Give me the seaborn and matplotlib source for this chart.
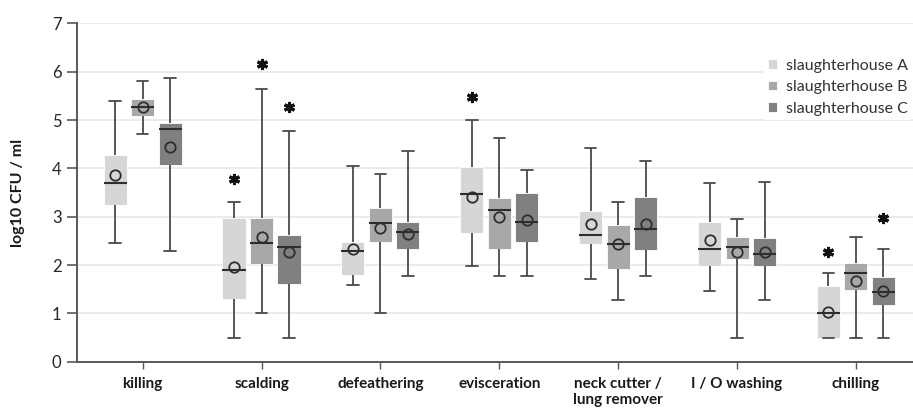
import numpy as np
import pandas as pd
import matplotlib
matplotlib.use("Agg")
import matplotlib.pyplot as plt
import seaborn as sns

stages = ["killing", "scalding", "defeathering", "evisceration",
          "neck cutter /\nlung remover", "I / O washing", "chilling"]
houses = ["slaughterhouse A", "slaughterhouse B", "slaughterhouse C"]

# lower whisker, q1, median, q3, upper whisker, mean (log10 CFU / ml)
a_low = [2.46, 0.50, 1.59, 1.99, 1.72, 1.46, 0.49]
a_q1 = [3.24, 1.30, 1.79, 2.66, 2.43, 1.97, 0.50]
a_med = [3.69, 1.90, 2.30, 3.48, 2.63, 2.33, 1.00]
a_q3 = [4.28, 2.97, 2.48, 4.03, 3.12, 2.90, 1.57]
a_high = [5.40, 3.30, 4.04, 5.00, 4.43, 3.70, 1.84]
a_mean = [3.86, 1.95, 2.34, 3.41, 2.84, 2.52, 1.03]

b_low = [4.72, 1.00, 1.00, 1.77, 1.28, 0.50, 0.50]
b_q1 = [5.08, 2.02, 2.48, 2.33, 1.92, 2.12, 1.49]
b_med = [5.26, 2.46, 2.87, 3.13, 2.43, 2.37, 1.84]
b_q3 = [5.43, 2.97, 3.19, 3.39, 2.83, 2.57, 2.04]
b_high = [5.81, 5.64, 3.88, 4.63, 3.31, 2.95, 2.59]
b_mean = [5.26, 2.57, 2.76, 2.99, 2.43, 2.28, 1.67]

c_low = [2.30, 0.50, 1.77, 1.77, 1.77, 1.28, 0.50]
c_q1 = [4.07, 1.60, 2.33, 2.47, 2.32, 1.97, 1.17]
c_med = [4.82, 2.38, 2.69, 2.90, 2.74, 2.23, 1.44]
c_q3 = [4.93, 2.63, 2.90, 3.50, 3.41, 2.56, 1.75]
c_high = [5.88, 4.78, 4.37, 3.97, 4.16, 3.72, 2.34]
c_mean = [4.44, 2.26, 2.65, 2.94, 2.85, 2.26, 1.46]

# significance marks (*)
star_stage = ["scalding", "scalding", "scalding", "evisceration", "chilling", "chilling"]
star_house = ["slaughterhouse A", "slaughterhouse B", "slaughterhouse C",
              "slaughterhouse A", "slaughterhouse A", "slaughterhouse C"]
star_y = [3.78, 6.17, 5.28, 5.48, 2.26, 2.98]

colors = ["#d6d6d6", "#a8a8a8", "#808080"]

# build long tables
summary = {
    houses[0]: (a_low, a_q1, a_med, a_q3, a_high, a_mean),
    houses[1]: (b_low, b_q1, b_med, b_q3, b_high, b_mean),
    houses[2]: (c_low, c_q1, c_med, c_q3, c_high, c_mean),
}
rows, mean_rows = [], []
for h, (lo, q1, md, q3, hi, mn) in summary.items():
    for i, s in enumerate(stages):
        for v in (lo[i], q1[i], md[i], q3[i], hi[i]):
            rows.append({"stage": s, "house": h, "value": v})
        mean_rows.append({"stage": s, "house": h, "value": mn[i]})
df = pd.DataFrame(rows)
df_mean = pd.DataFrame(mean_rows)
df_star = pd.DataFrame({"stage": star_stage, "house": star_house, "value": star_y})

sns.set_style("white")
plt.rcParams["font.family"] = ["Lato", "DejaVu Sans"]

fig, ax = plt.subplots(figsize=(9.13, 4.18), dpi=100)
fig.subplots_adjust(left=0.084, right=1.0, bottom=0.1347, top=0.944)

box_w = 0.694
sns.boxplot(data=df, x="stage", y="value", hue="house", order=stages, hue_order=houses,
            palette=colors, saturation=1, width=box_w, gap=0.16, whis=(0, 100),
            linecolor="#4a4a4a", linewidth=1.3, showfliers=False,
            boxprops={"edgecolor": "white", "linewidth": 0.6},
            medianprops={"color": "#2e2e2e", "linewidth": 1.5},
            ax=ax)

# means as hollow circles
sns.pointplot(data=df_mean, x="stage", y="value", hue="house", order=stages, hue_order=houses,
              dodge=box_w * 2 / 3, linestyle="none", markers="o", palette=["#2e2e2e"] * 3,
              errorbar=None, legend=False, markerfacecolor="none", markersize=7.5,
              markeredgewidth=1.3, ax=ax)

sns.pointplot(data=df_star, x="stage", y="value", hue="house", order=stages, hue_order=houses,
              dodge=box_w * 2 / 3, linestyle="none", markers=(6, 2, 0), palette=["#111111"] * 3,
              errorbar=None, legend=False, markersize=8, markeredgewidth=2.2, ax=ax)

ax.set_xlim(-0.555, 6.48)
ax.set_ylim(0, 7)
ax.set_yticks(range(0, 8))
ax.yaxis.grid(True, color="#e6e6e6", linewidth=1.2)
ax.xaxis.grid(False)
ax.set_axisbelow(True)

for side in ["top", "right"]:
    ax.spines[side].set_visible(False)
for side in ["left", "bottom"]:
    ax.spines[side].set_color("#595959")
    ax.spines[side].set_linewidth(1.4)

ax.tick_params(axis="y", length=7, width=1.2, color="#595959", labelsize=12, pad=4,
               labelcolor="#262626", left=True)
ax.tick_params(axis="x", length=5, width=1.0, color="#595959", labelsize=11, pad=6,
               labelcolor="#1a1a1a", bottom=True)
for lbl in ax.get_xticklabels():
    lbl.set_fontweight("bold")

ax.set_xlabel("")
ax.set_ylabel("log10 CFU / ml", fontsize=11.5, fontweight="bold", color="#1a1a1a")
ax.yaxis.set_label_coords(-0.062, 0.5)

handles, labels = ax.get_legend_handles_labels()
leg = ax.legend(handles[:3], labels[:3], loc="upper right", bbox_to_anchor=(1.0, 0.91),
                fontsize=11.5, frameon=True, facecolor="white", edgecolor="none", framealpha=1,
                handlelength=0.55, handleheight=0.55, handletextpad=0.6, labelspacing=0.47,
                borderpad=0.3, borderaxespad=0.0)
for t in leg.get_texts():
    t.set_color("#333333")

fig.savefig("out.png", dpi=100)
